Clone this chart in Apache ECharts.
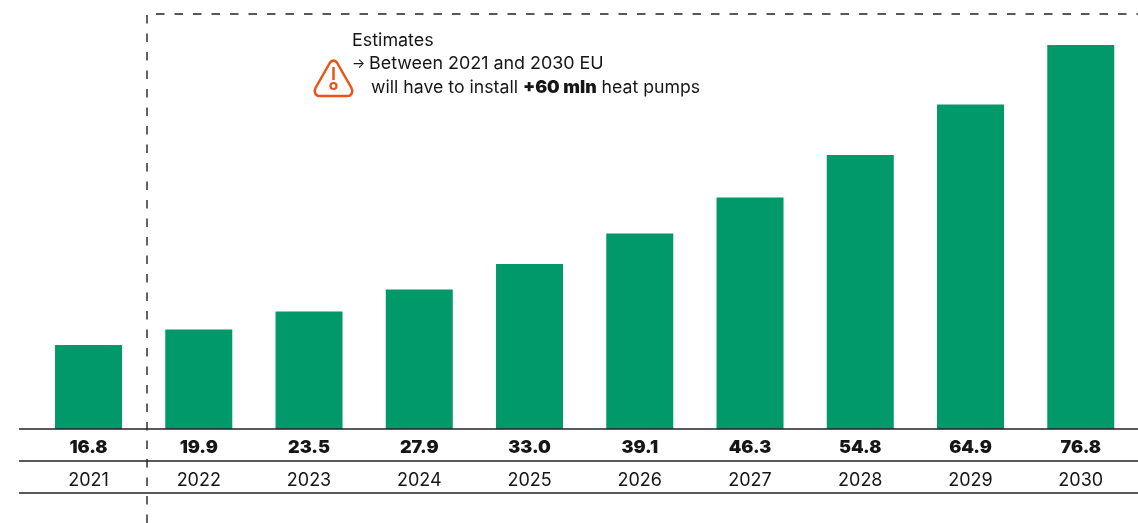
<!DOCTYPE html>
<html><head><meta charset="utf-8">
<style>html,body{margin:0;padding:0;background:#fff}#c{width:1138px;height:523px}</style>
<script src="https://cdn.jsdelivr.net/npm/echarts@6/dist/echarts.min.js"></script>
</head><body><div id="c"></div>
<script>
const years = ['2021','2022','2023','2024','2025','2026','2027','2028','2029','2030'];
const heatPumps = [16.8,19.9,23.5,27.9,33.0,39.1,46.3,54.8,64.9,76.8];
const valueLabels = ['16.8','19.9','23.5','27.9','33.0','39.1','46.3','54.8','64.9','76.8'];
const ink = '#161616', green = '#01996A', orange = '#E8541A';
const font = 'Inter';
const chart = echarts.init(document.getElementById('c'), null, {renderer:'canvas'});
const rule = y => ({type:'line', shape:{x1:19,y1:y,x2:1138,y2:y}, style:{stroke:'#222',lineWidth:1.6}, z:10});
chart.setOption({
  animation:false,
  backgroundColor:'#fff',
  grid:{left:33.4,width:1102.5,top:29,height:400},
  xAxis:[
    {type:'category',data:valueLabels,position:'bottom',axisLine:{show:false},axisTick:{show:false},
     axisLabel:{interval:0,margin:10,color:ink,fontFamily:font,fontSize:18,fontWeight:900}},
    {type:'category',data:years,position:'bottom',offset:33,axisLine:{show:false},axisTick:{show:false},
     axisLabel:{interval:0,margin:10,color:ink,fontFamily:font,fontSize:18,fontWeight:400}}
  ],
  yAxis:{type:'value',min:0,max:80,show:false},
  series:[{type:'bar',data:heatPumps,barWidth:67,itemStyle:{color:green},silent:true}],
  graphic:[
    rule(429),rule(461),rule(493),
    {type:'polyline',shape:{points:[[147,523],[147,14],[1138,14]]},
     style:{fill:null,stroke:'#222',lineWidth:1.4,lineDash:[8.5,10]},z:11},
    {type:'text',x:352,y:32,style:{text:'Estimates',fill:ink,font:'400 17.9px '+font},z:12},
    {type:'text',x:352,y:57,style:{text:'→',fill:ink,font:'400 14px '+font},z:12},
    {type:'text',x:369,y:55,style:{text:'Between 2021 and 2030 EU',fill:ink,font:'400 17.9px '+font},z:12},
    {type:'text',x:371,y:79,style:{
      text:'will have to install {b|+60 mln} heat pumps',fill:ink,font:'400 17.7px '+font,
      rich:{b:{fill:ink,font:'900 17.7px '+font}}},z:12},
    {type:'polygon',z:12,
     shape:{points:[[329.5,63.5],[331,61.5],[333.5,60.5],[336,61.5],[337.5,63.5],
       [351.5,88],[352.3,91],[351.5,94],[349.5,95.7],[347,96],
       [320,96],[317.5,95.7],[315.5,94],[314.7,91],[315.5,88]]},
     style:{fill:null,stroke:orange,lineWidth:2.5,lineJoin:'round'}},
    {type:'line',shape:{x1:333.5,y1:67,x2:333.5,y2:80},style:{stroke:orange,lineWidth:2.5},z:12},
    {type:'circle',shape:{cx:333.5,cy:86,r:3},style:{fill:null,stroke:orange,lineWidth:2.2},z:12}
  ]
});
</script></body></html>
